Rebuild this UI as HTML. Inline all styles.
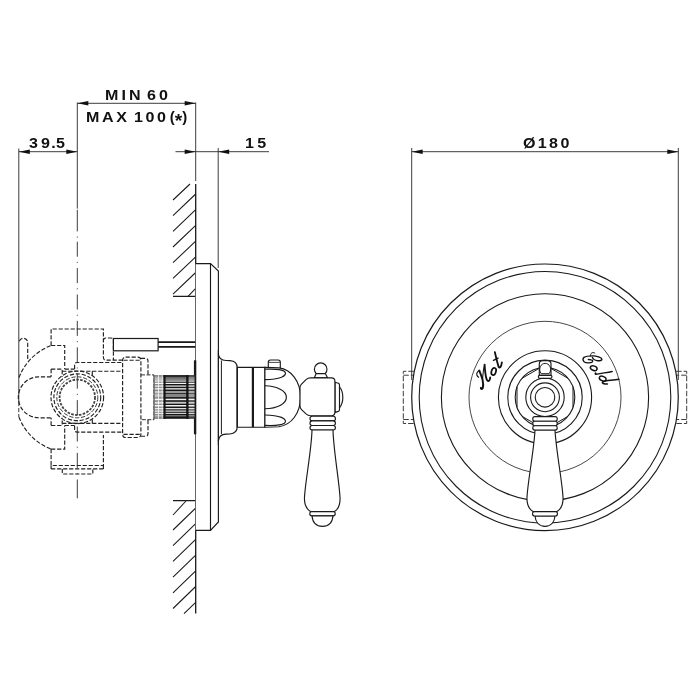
<!DOCTYPE html>
<html><head><meta charset="utf-8">
<style>
html,body{margin:0;padding:0;background:#fff;}
body{width:700px;height:700px;overflow:hidden;font-family:"Liberation Sans",sans-serif;}
svg{position:absolute;left:0;top:0;display:block}
.t{position:absolute;font-family:"Liberation Sans",sans-serif;font-weight:bold;font-size:15px;line-height:15px;transform:scaleX(1.07);transform-origin:0 0;color:#111;white-space:pre;filter:grayscale(1);}
</style></head><body>
<div class="t" id="t1" style="left:104.8px;top:86.9px;letter-spacing:2.9px;word-spacing:-4px">MIN 60</div>
<div class="t" id="t2" style="left:86px;top:108.9px;letter-spacing:2.45px;word-spacing:-2.5px">MAX 100<span style="letter-spacing:0;margin-left:1.2px;font-size:14px">(<span style="font-size:18px;line-height:10px;position:relative;top:5px;">*</span>)</span></div>
<div class="t" id="t3" style="left:29px;top:135.3px;letter-spacing:1.2px;">3<span style="margin-left:1.6px">9</span>.<span style="margin-left:-0.8px">5</span></div>
<div class="t" id="t4" style="left:245px;top:135.3px;letter-spacing:3px;">15</div>
<div class="t" id="t5" style="left:522.5px;top:135.2px;letter-spacing:2.2px;">Ø180</div>
<svg width="700" height="700" viewBox="0 0 700 700" fill="none" stroke="#1a1a1a" stroke-width="1.15">
<!-- SECTION:dims -->
<g id="dims" stroke-width="0.95" stroke="#333">
<path d="M18.8,148.5V402"/><path d="M18.8,402V417" stroke-dasharray="4.2 1.8"/>
<path d="M77.3,102.5V208.6M77.3,209.8V231.4M77.3,236.6V237.6"/><path d="M77.3,241.7V476" stroke-dasharray="15 5.2 1 5.2"/><path d="M77.3,479.5V498.3"/>
<path d="M195.7,102.5V181"/>
<path d="M218.2,148V268"/>
<path d="M77.3,103.3H195.7"/>
<path d="M18.8,151.7H77.3"/>
<path d="M175.5,151.7H269"/>
<path d="M411.7,148V380"/>
<path d="M678.3,148V380"/>
<path d="M411.7,151.7H678.3"/>
<g fill="#111" stroke="none">
<path d="M77.3,103.3l11,-2.3v4.6z"/><path d="M195.7,103.3l-11,-2.3v4.6z"/>
<path d="M18.8,151.7l11,-2.3v4.6z"/><path d="M77.3,151.7l-11,-2.3v4.6z"/>
<path d="M195.7,151.7l-11,-2.3v4.6z"/><path d="M218.2,151.7l11,-2.3v4.6z"/>
<path d="M411.7,151.7l11,-2.3v4.6z"/><path d="M678.3,151.7l-11,-2.3v4.6z"/>
</g>
</g>
<!-- SECTION:wall -->
<g id="wall">
<path d="M195.7,184V613.6" stroke-width="1.3"/>
<path d="M173,296.4H195.7M173,500.6H195.7"/>
<g stroke-width="1.05">
<path d="M173,200L190,184M173,215.6L195.7,194M173,231.3L195.7,209.7M173,247L195.7,225.4M173,262.7L195.7,241.1M173,278.4L195.7,256.8M173,294.1L195.7,272.5M188,296.4L195.7,288.4"/>
<path d="M173,515L186,501M173,530L195.7,508M173,545.7L195.7,523.7M173,561.4L195.7,539.4M173,577.1L195.7,555.1M173,592.8L195.7,570.8M173,608.5L195.7,586.5M184,613.6L195.7,602.4"/>
</g>
<!-- plate -->
<path d="M195.7,263.6H210.5L218.4,271V522L210.5,530.4H195.7" fill="#fff"/>
<path d="M210.5,263.6V530.4"/>
</g>
<!-- SECTION:body -->
<g id="body" stroke-dasharray="4.2 1.8" stroke-width="1.15" stroke="#222">
<!-- top / bottom rect -->
<path d="M51.1,345.5V329H103.4V357.500Q103.400,360.100 106,360.100H122.600"/><path d="M103.400,340.500Q103.400,338 106,338H111Q113.400,338 113.400,340.500V360.100"/>
<path d="M51.1,449.1V465.500H103.400V435.1M51.100,468.900H103.400M51.100,465.500V468.900M103.400,465.500V468.900M62.300,468.900V474H92.800V468.900"/>
<path d="M51.1,345.500H64.700V369.100"/>
<path d="M51.1,449.1H64.700V425.5"/>
<!-- outer arc -->
<path d="M50.6,345.700A55.300,55.300 0 0 0 18.700,378.300"/>
<path d="M50.6,448.9A55.300,55.300 0 0 1 18.700,416.3"/>
<!-- left tube -->
<path d="M27.700,359V342.600A4.300,4.300 0 0 0 19.100,342.600" />
<!-- inner U -->
<path d="M51.100,376.800H38.800A20.500,20.500 0 0 0 38.800,417.800H51.100"/>
<path d="M51.100,369.100H62.200V376.800M51.100,369.100V376.800"/>
<path d="M51.100,425.5H62.200V417.8M51.100,425.5V417.8"/>
<!-- boss -->
<path d="M64.700,369.100H74.500M62.200,371.200H122.600M92.300,371.200V375.200"/>
<path d="M64.700,425.5H74.500M62.200,423.4H122.600M92.300,423.4V419.4"/>
<path d="M74.600,369V365Q74.600,362.500 77.100,362.500H122.600"/>
<path d="M74.600,425.6V429.6Q74.600,432.1 77.100,432.1H122.600"/>
<!-- vertical rounded rect -->
<rect x="122.600" y="357.100" width="18.300" height="80.400" rx="3"/>
<path d="M123.500,360.200H140M123.500,434.400H140"/>
<path d="M140.900,358.400H145.500Q148,358.400 148,361V374.500"/>
<path d="M140.900,436.2H145.500Q148,436.2 148,433.6V420.1"/>
<!-- small rounded rect near pin -->
<!-- circles -->
<circle cx="77.300" cy="397.300" r="26.300"/>
<circle cx="77.300" cy="397.300" r="23.400"/>
<circle cx="77.300" cy="397.300" r="20.500" stroke-width="0.9"/>
<circle cx="77.300" cy="397.300" r="17.700" stroke-width="1.800" stroke-dasharray="2.6 1.300" stroke="#444"/>
</g>
<g id="bodysolid">
<path d="M141,374.900H154V419.700H141" stroke-width="0.9" stroke-dasharray="4 1.500"/>
<!-- pin + rod -->
<rect x="113.400" y="338.500" width="44.700" height="12.300" fill="#fff" stroke-width="1.200"/>
<path d="M158.100,342.200H195.300M158.100,346.800H195.300" stroke-width="1.700"/>
<path d="M195.100,360.300V434.300" stroke-width="2.400"/>
<!-- splines -->
<g id="stripes"><defs><linearGradient id="gg" x1="0" y1="0" x2="0" y2="1"><stop offset="0" stop-color="#5a5a5a"/><stop offset="1" stop-color="#a8a8a8"/></linearGradient></defs>
<g stroke="none">
<rect x="153.800" y="375.100" width="40.900" height="43.700" fill="#161616"/>
<rect x="154.5" y="376.7" width="40" height="5.6" fill="url(#gg)"/>
<rect x="154.5" y="383.0" width="40" height="1.0" fill="#f4f4f4"/>
<rect x="154.5" y="385.3" width="40" height="1.6" fill="#b8b8b8"/>
<rect x="154.5" y="388.2" width="40" height="1.3" fill="#f0f0f0"/>
<rect x="154.5" y="391.0" width="40" height="2.2" fill="#9a9a9a"/>
<rect x="154.5" y="394.0" width="40" height="3.1" fill="#858585"/>
<rect x="154.5" y="398.7" width="40" height="1.5" fill="#f0f0f0"/>
<rect x="154.5" y="401.8" width="40" height="1.9" fill="#c4c4c4"/>
<rect x="154.5" y="405.0" width="40" height="1.5" fill="#efefef"/>
<rect x="154.5" y="408.0" width="40" height="1.3" fill="#dcdcdc"/>
<rect x="154.5" y="410.5" width="40" height="1.2" fill="#e4e4e4"/>
<rect x="154.5" y="412.8" width="40" height="1.2" fill="#d0d0d0"/>
<rect x="154.5" y="415.2" width="40" height="1.2" fill="#8a8a8a"/>
<rect x="153.800" y="375.100" width="9.800" height="43.700" fill="#fff" opacity="0.5"/>
<rect x="158" y="375.100" width="0.900" height="43.700" fill="#fff" opacity="0.800"/><rect x="161.800" y="375.100" width="0.800" height="43.700" fill="#fff" opacity="0.700"/>
<rect x="188.600" y="375.100" width="6" height="43.700" fill="#fff" opacity="0.180"/>
<rect x="163.500" y="375.100" width="2.100" height="43.700" fill="#141414"/><rect x="186.200" y="375.100" width="2.300" height="43.700" fill="#141414"/>
<rect x="153.600" y="375.100" width="0.900" height="43.700" fill="#555"/>
</g></g>
</g>

<!-- SECTION:handle-side -->
<g id="hside">
<!-- flange -->
<path d="M218.3,353.5C218.6,357.5 221,360.4 226,360.5L230,360.6C234.5,360.8 237.2,363.5 237.2,368V426.6C237.2,431.100 234.500,433.800 230,434L226,434.1C221,434.200 218.600,437.100 218.300,441.100" fill="#fff"/>
<path d="M221.4,360.5V434.1" stroke-width="1"/><path d="M218.400,350V445"/>
<path d="M237.300,367.400V427.200" stroke-width="1.3"/><path d="M238.900,367.400V427.200" stroke-width="0.9"/>
<!-- cylinder -->
<path d="M237.4,367.4H264.9V427.2H237.4Z" fill="#fff"/>
<path d="M252.9,367.4V427.2" stroke-width="2.2"/>
<!-- top pin -->
<path d="M268.3,367.6V362.2Q268.3,360 270.500,360H278.100Q280.300,360 280.300,362.200V368" fill="#fff"/>
<path d="M268.8,362.4H279.8" stroke-width="0.8"/>
<!-- dome -->
<path d="M264.9,367.4L279,367.9C291,369.5 300.500,381 300.500,397.300C300.500,413.600 291,425.100 279,426.700L264.900,427.200Z" fill="#fff"/>
<!-- petals -->
<path d="M264.9,369.2C274,368.8 281.5,369.3 284.3,371.3C286.800,373.200 285.300,375.600 281.500,377.200C277,378.900 270,379.500 264.900,379.600"/>
<path d="M264.9,385.800C277,386.200 286.400,390.500 286.400,397.300C286.400,404.100 277,408.400 264.900,408.800"/>
<path d="M264.9,425.400C274,425.800 281.500,425.300 284.300,423.300C286.800,421.400 285.300,419 281.500,417.400C277,415.700 270,415.100 264.900,415"/>
<!-- knob ball -->
<circle cx="320.700" cy="369.200" r="6.300" fill="#fff"/>
<path d="M314.200,377.900L316.200,373.600H325.400L327.600,377.900Z" fill="#fff"/>
<!-- end cap -->
<path d="M339.300,386.500C344,392 344,402.600 339.300,408.100" fill="#fff"/>
<path d="M335,382.200L338.400,383.200C339.200,383.500 339.500,384 339.500,385V409.600C339.500,410.600 339.200,411.100 338.400,411.400L335,412.400Z" fill="#fff"/>
<!-- hub -->
<path d="M300,387.500C300,385.800 300.300,385.300 301.300,384.300L306.300,379.400C307.500,378.300 308.500,377.900 310.500,377.900H331.500Q334.900,377.900 334.900,381.300V412.300Q334.900,415.700 331.500,415.700H310.500C308.500,415.700 307.500,415.300 306.300,414.200L301.300,409.300C300.300,408.300 300,407.800 300,406.100Z" fill="#fff"/>
<!-- rings -->
<rect x="310" y="416.200" width="25.400" height="4.700" rx="2.200" fill="#fff"/>
<rect x="310" y="420.900" width="25.400" height="4.600" rx="2.200" fill="#fff"/>
<rect x="310" y="425.500" width="25.400" height="4.500" rx="2.200" fill="#fff"/>
<!-- handle -->
<path d="M312,430C311.500,450 305.500,480 304.500,497C304,505 306.500,509 310.500,511.600H334.500C338.500,509 340.500,505 340,497C339,480 333.500,450 333,430Z" fill="#fff"/>
<rect x="309.800" y="511.600" width="25.400" height="4.200" rx="2" fill="#fff"/>
<path d="M312,515.800C312.500,522 316,526.400 322.500,526.400C329,526.400 332.500,522 333,515.800Z" fill="#fff"/>
</g>

<!-- SECTION:front -->
<g id="front">
<!-- side tabs dashed -->
<g stroke-dasharray="5.5 2" stroke-width="0.95" stroke="#333">
<path d="M413.8,371.3H403.3V423.5H413.8M403.3,375.2H413M403.3,419.5H413"/>
<path d="M676.2,371.3H686.7V423.5H676.2M686.7,375.2H677M686.7,419.5H677"/>
</g>
<circle cx="545" cy="397.3" r="133.3" fill="#fff" stroke-width="1.2"/>
<circle cx="545" cy="397.3" r="125.8" stroke-width="1.1"/>
<circle cx="545" cy="397.3" r="103.6" stroke-width="1.1"/>
<circle cx="545" cy="397.3" r="76" stroke-width="0.8"/>
<circle cx="545" cy="397.3" r="46.6" stroke-width="1.1"/>
<circle cx="545" cy="397.3" r="37.2" stroke-width="1.1"/>
<circle cx="545" cy="397.3" r="29.8" stroke-width="1.1"/>
<path d="M573.0,407.5L573.0,387.1M550.2,426.6L567.8,416.4M522.2,416.4L539.8,426.6M517.0,387.1L517.0,407.5M539.8,368.0L522.2,378.2M567.8,378.2L550.2,368.0" stroke-width="1"/>
<circle cx="545" cy="397.3" r="19.2" stroke-width="1.1"/>
<circle cx="545" cy="397.3" r="14.4" stroke-width="1.1"/>
<circle cx="545" cy="397.3" r="9.8" stroke-width="1.1"/>
<g id="script" stroke="#111" stroke-linecap="round" stroke-linejoin="round" fill="none">
<path d="M478.57,377.26 C477.20,375.98 476.51,374.61 476.74,373.61 C477.20,372.10 478.79,370.05 479.71,370.78" stroke-width="1.15"/>
<path d="M479.25,370.59 C480.39,373.24 481.99,377.35 482.54,379.63 C483.13,382.37 483.59,385.57 482.77,388.22 C482.22,389.45 481.08,389.45 480.85,387.95" stroke-width="1.95"/>
<circle cx="481" cy="388.2" r="0.9" fill="#111" stroke="none"/>
<path d="M482.54,379.63 C482.90,375.07 483.36,368.22 484.59,364.57" stroke-width="1.05"/>
<path d="M484.59,364.57 C484.87,369.13 485.19,374.61 486.56,379.18 C487.47,381.46 488.84,381.69 489.75,379.63 C490.07,378.81 490.26,378.04 490.21,377.35" stroke-width="1.85"/>
<ellipse cx="493.7" cy="371.5" rx="2.2" ry="3.7" transform="rotate(18 493.7 371.5)" stroke-width="1.70"/>
<path d="M494.86,352.14 C495.93,357.14 497.36,362.86 498.57,366.79 C499.50,368.57 501.29,367.14 501.86,362.50" stroke-width="1.85"/>
<path d="M493.43,360.43 L498.14,358.14" stroke-width="1.25"/>
<path d="M592.40,357.40 C592.80,358.60 595.20,360.40 597.60,360.72 C600.00,360.88 601.92,360.40 601.92,359.20 C601.80,357.80 597.60,356.20 594.00,355.92 C591.60,355.84 586.00,356.20 584.00,357.40 C582.40,358.60 582.80,360.80 584.40,362.00 C586.00,363.00 590.00,363.20 591.60,362.48 C593.20,361.60 593.00,360.20 591.20,359.92 C590.20,359.72 589.20,359.52 588.40,359.52" stroke-width="1.4"/>
<path d="M594.80,353.00 C593.80,352.32 592.00,352.32 591.00,353.60 C590.48,354.40 590.48,355.20 590.48,356.00" stroke-width="0.9"/>
<ellipse cx="593.7" cy="368.2" rx="3.5" ry="2.2" transform="rotate(22 593.7 368.2)" stroke-width="1.45"/>
<path d="M612.14,371.43 C607.14,372.50 601.43,373.21 597.14,374.14 C595.36,374.43 594.64,373.57 595.71,373.00" stroke-width="1.45"/>
<ellipse cx="602.7" cy="378.6" rx="3.5" ry="2.2" transform="rotate(22 602.7 378.6)" stroke-width="1.45"/>
<path d="M618.93,379.29 C615.00,379.86 610.00,380.29 606.43,380.71 C603.57,381.29 601.79,382.14 602.50,383.00 C603.21,383.93 605.36,384.14 607.50,383.93" stroke-width="1.45"/>
</g>
<!-- top pin -->
<path d="M539.3,375.400V364Q539.300,360.600 542.700,360.600H547.600Q551,360.600 551,364V375.400Z" fill="#fff"/>
<path d="M541.200,373.700C539.400,371.500 539.500,368.500 540.200,366.800C541.200,364.500 543.200,363.400 545.150,363.400C547.100,363.400 549.100,364.500 550.100,366.800C550.800,368.500 550.900,371.500 549.100,373.700Z" stroke-width="1"/>
<rect x="538.400" y="375.400" width="13.500" height="2.900" rx="1.200" fill="#fff"/>
<!-- handle -->
<path d="M535,430 C534,450 528,480 527,497 C526.5,505 529,509 533,511.6 H557 C561,509 563.5,505 563,497 C562,480 556,450 555,430Z" fill="#fff"/>
<path d="M535,516C535.5,522 539,526.4 545,526.4C551,526.4 554.5,522 555,516Z" fill="#fff"/>
<rect x="532.6" y="511.6" width="24.8" height="4.4" rx="2" fill="#fff"/>
<rect x="533" y="416.6" width="24" height="13.4" rx="2" fill="#fff" stroke="none"/>
<rect x="532.8" y="416.6" width="24.4" height="4.6" rx="2" fill="#fff"/>
<rect x="532.8" y="421.2" width="24.4" height="4.5" rx="2" fill="#fff"/>
<rect x="532.8" y="425.7" width="24.4" height="4.3" rx="2" fill="#fff"/>
</g>

</svg>
</body></html>
